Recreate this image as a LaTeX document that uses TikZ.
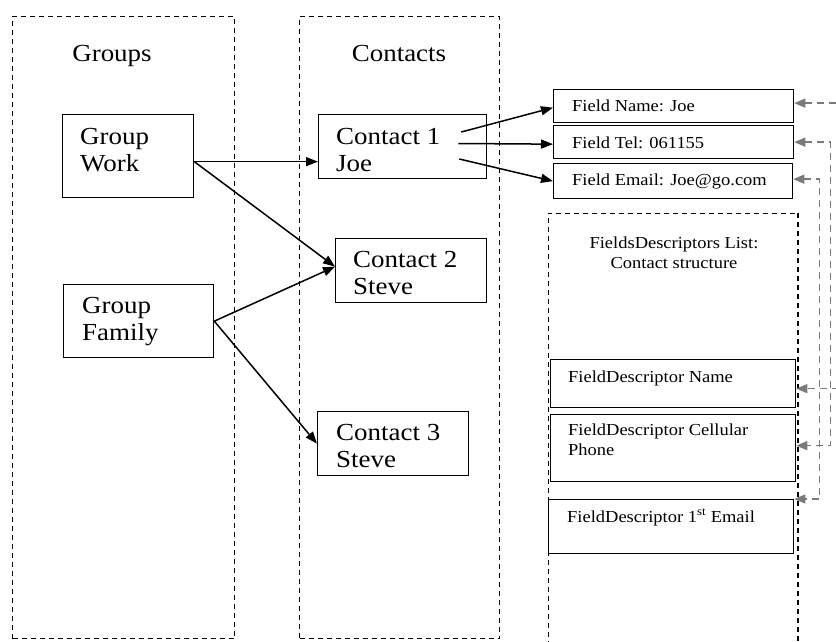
\documentclass[tikz,border=0pt]{standalone}
\usepackage{fontspec}
\setmainfont{Liberation Serif}[FakeStretch=1.1]
\usetikzlibrary{arrows.meta}
\newcommand\twol[2]{\vtop{\hbox{#1}\hbox{#2}}}
\newcommand\twoc[2]{\vtop{\halign{\hfil##\hfil\cr #1\cr #2\cr}}}
\tikzset{
  cont/.style={draw, line width=1pt, dash pattern=on 5pt off 4pt, inner sep=0pt, anchor=north west},
  dline/.style={line width=1pt, dash pattern=on 5pt off 4pt},
  box/.style={draw, line width=1.3pt, inner sep=0pt, anchor=north west},
  big/.style={font=\fontsize{24.5}{27}\selectfont, inner sep=0pt, anchor=base west},
  small/.style={font=\fontsize{16.8}{20}\selectfont, inner sep=0pt, anchor=base west},
  arr/.style={line width=1.5pt, -{Triangle[length=12pt,width=9pt]}},
  garr/.style={draw=black!52, line width=1.4pt, dash pattern=on 7pt off 5pt,
    {Triangle[length=11pt,width=9pt]}-{Triangle[length=11pt,width=9pt]}}
}
\begin{document}
\begin{tikzpicture}[x=1pt,y=-1pt]
\useasboundingbox (0,0) rectangle (836,642);
% containers
\node[cont, minimum width=222pt, minimum height=622pt] (grp) at (12,16) {};
\node[cont, minimum width=200pt, minimum height=622pt] (con) at (299,16) {};
\node[cont, draw=none, minimum width=249pt, minimum height=450pt] (fdl) at (548,213) {};
\draw[dline] (fdl.south west) -- (fdl.north west) -- (fdl.north east);
\draw[dline, line width=2pt] (fdl.north east) -- (fdl.south east);
\node[big, anchor=base] (grpt) at (112,62) {Groups};
\node[big, anchor=base] (cont) at (399,62) {Contacts};
\node[small, anchor=base] (fdlt) at (674,248) {\twoc{FieldsDescriptors List:}{Contact structure}};
% group boxes
\node[box, minimum width=131pt, minimum height=83pt] (gw) at (62,114) {};
\node[big] (gwt) at (80,144) {\twol{Group}{Work}};
\node[box, minimum width=150pt, minimum height=73pt] (gf) at (63,284) {};
\node[big] (gft) at (82,313) {\twol{Group}{Family}};
% contact boxes
\node[box, minimum width=168pt, minimum height=64pt] (c1) at (318,114) {};
\node[big] (c1t) at (336,144) {\twol{Contact 1}{Joe}};
\node[box, minimum width=151pt, minimum height=64pt] (c2) at (335,238) {};
\node[big] (c2t) at (353,267) {\twol{Contact 2}{Steve}};
\node[box, minimum width=151pt, minimum height=64pt] (c3) at (317,411) {};
\node[big] (c3t) at (336,440) {\twol{Contact 3}{Steve}};
% field boxes
\node[box, minimum width=240pt, minimum height=33pt] (fn) at (553,89) {};
\node[small] (fnt) at (572,112) {Field Name: Joe};
\node[box, minimum width=240pt, minimum height=33pt] (ft) at (553,125) {};
\node[small] (ftt) at (572,148) {Field Tel: 061155};
\node[box, minimum width=239pt, minimum height=35pt] (fe) at (553,163) {};
\node[small] (fet) at (572,185) {Field Email: Joe@go.com};
% descriptor boxes
\node[box, minimum width=245pt, minimum height=48pt] (fdn) at (550,359) {};
\node[small] (fdnt) at (568,382) {FieldDescriptor Name};
\node[box, minimum width=245pt, minimum height=67pt] (fdc) at (550,414) {};
\node[small] (fdct) at (568,435) {\twol{FieldDescriptor Cellular}{Phone}};
\node[box, minimum width=245pt, minimum height=54pt] (fde) at (548,499) {};
\node[small] (fdet) at (567,522) {FieldDescriptor 1\textsuperscript{st} Email};
% black arrows
\coordinate (gwo) at ([yshift=-5.5pt]gw.east);
\coordinate (c2in) at ([yshift=4pt]c2.west);
\draw[arr] (gwo) -- (gwo -| c1.west);
\draw[arr] (gwo) -- (c2in);
\draw[arr] (gf.east) -- (c2in);
\draw[arr] (gf.east) -- (c3.west);
\draw[arr] ([shift={(-26pt,-18pt)}]c1.north east) -- ([yshift=-1.5pt]fn.west);
\draw[arr] ([shift={(-29pt,-29.5pt)}]c1.north east) -- ([yshift=-2pt]ft.west);
\draw[arr] ([shift={(-28pt,-45pt)}]c1.north east) -- (fe.west);
% gray dashed links
\draw[garr] ([yshift=3pt]fn.east) -- ++(47,0) |- ([yshift=-5pt]fdn.east);
\draw[garr] (ft.east) -- ++(36,0) |- ([yshift=2.5pt]fdc.east);
\draw[garr] ([yshift=2pt]fe.east) -- ++(26,0) |- (fde.north east);
\end{tikzpicture}
\end{document}
